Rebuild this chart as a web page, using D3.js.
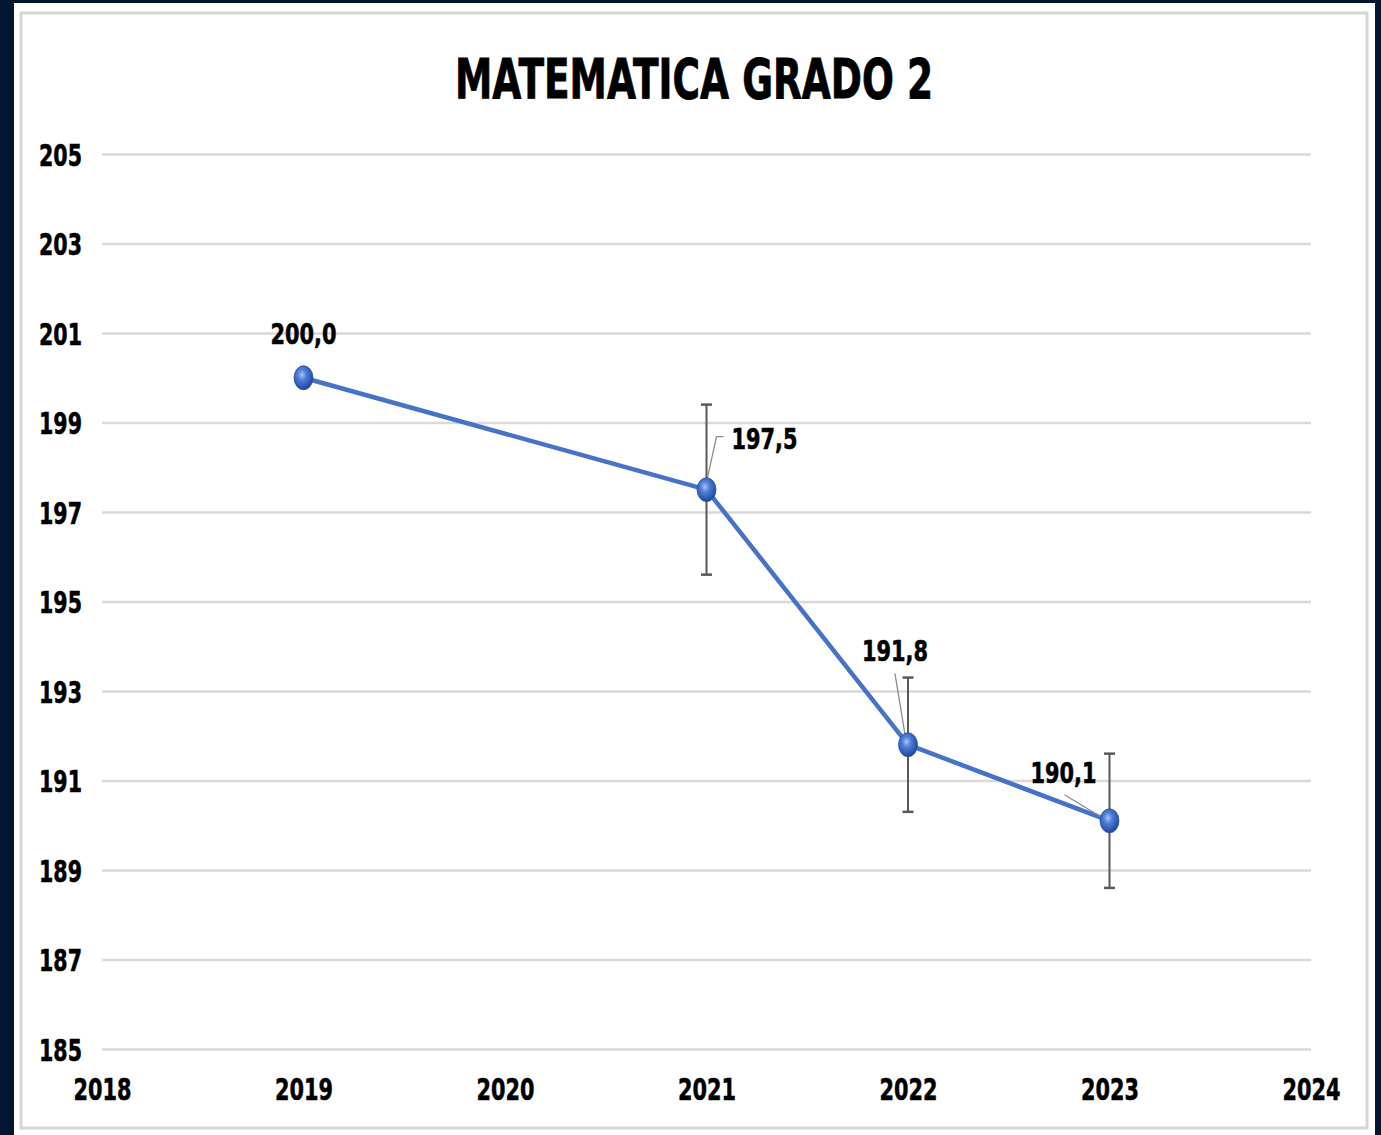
<!DOCTYPE html>
<html><head><meta charset="utf-8">
<script src="https://cdn.jsdelivr.net/npm/d3@7"></script>
<style>
html,body{margin:0;padding:0;background:#021632;}
svg{display:block;}
text{font-family:"DejaVu Sans",Verdana,sans-serif;font-weight:bold;fill:#000;stroke:#000;stroke-width:0.6px;}
</style></head>
<body>
<svg id="c" width="1381" height="1135"></svg>
<script>
// ---- data ----
const years = [2019, 2021, 2022, 2023];
const values = [200.0, 197.5, 191.8, 190.1];
const errLow = [null, 195.6, 190.3, 188.6];
const errHigh = [null, 199.4, 193.3, 191.6];
const labels = ["200,0", "197,5", "191,8", "190,1"];
const yTicks = [185, 187, 189, 191, 193, 195, 197, 199, 201, 203, 205];
const xTicks = [2018, 2019, 2020, 2021, 2022, 2023, 2024];
const title = "MATEMATICA GRADO 2";

// ---- layout (label offsets relative to point, leader line points) ----
const labelLayout = [
  {dx: 0, dy: -34, anchor: "middle", leader: null},
  {dx: 25, dy: -41, anchor: "start", leader: [[17, -53], [10, -53], [1, -12]]},
  {dx: -13, dy: -84, anchor: "middle", leader: [[-13, -71], [-3, -10]]},
  {dx: -13, dy: -38, anchor: "end", leader: [[-45, -26], [-7, -3]]}
];

const svg = d3.select("#c");
const W = 1381, H = 1135;

// background panel
svg.append("rect").attr("x", 0).attr("y", 0).attr("width", W).attr("height", H).attr("fill", "#021632");
svg.append("rect").attr("x", 14).attr("y", 3).attr("width", 1361).attr("height", 1140).attr("fill", "#ffffff");
svg.append("rect").attr("x", 21).attr("y", 13).attr("width", 1346).attr("height", 1115)
  .attr("fill", "#ffffff").attr("stroke", "#d6d6d6").attr("stroke-width", 3);

const x = d3.scaleLinear().domain([2018, 2024]).range([102, 1311]);
const y = d3.scaleLinear().domain([185, 205]).range([1049, 154]);

// gradient for markers
const defs = svg.append("defs");
const g = defs.append("radialGradient").attr("id", "ball").attr("cx", "42%").attr("cy", "38%").attr("r", "65%");
g.append("stop").attr("offset", "0%").attr("stop-color", "#a9c4f2");
g.append("stop").attr("offset", "35%").attr("stop-color", "#4f7fd6");
g.append("stop").attr("offset", "80%").attr("stop-color", "#2a55b0");
g.append("stop").attr("offset", "100%").attr("stop-color", "#1d3f86");

// y axis with gridlines
const yAxis = d3.axisLeft(y).tickValues(yTicks).tickFormat(d3.format("d"))
  .tickSize(-(1311 - 102)).tickPadding(20);
const ya = svg.append("g").attr("transform", "translate(102,0)").call(yAxis);
ya.select(".domain").remove();
ya.selectAll("line").attr("stroke", "#d9d9d9").attr("stroke-width", 2.5);
ya.selectAll("text").attr("font-size", 31).attr("dy", "0.36em")
  .attr("textLength", 43).attr("lengthAdjust", "spacingAndGlyphs")
  .style("font-family", "'DejaVu Sans',sans-serif").style("font-weight", "bold").attr("fill", "#000");

// x axis
const xAxis = d3.axisBottom(x).tickValues(xTicks).tickFormat(d3.format("d")).tickSize(0).tickPadding(29);
const xa = svg.append("g").attr("transform", "translate(0,1049)").call(xAxis);
xa.select(".domain").remove();
xa.selectAll("text").attr("font-size", 31).attr("dy", "0.71em")
  .attr("textLength", 58).attr("lengthAdjust", "spacingAndGlyphs")
  .style("font-family", "'DejaVu Sans',sans-serif").style("font-weight", "bold").attr("fill", "#000");

// title
svg.append("text").attr("x", 694).attr("y", 98).attr("text-anchor", "middle")
  .attr("font-size", 56).attr("textLength", 478).attr("lengthAdjust", "spacingAndGlyphs")
  .style("stroke-width", "0.9px")
  .text(title);

const pts = years.map((yr, i) => ({yr, v: values[i], lo: errLow[i], hi: errHigh[i], lab: labels[i], L: labelLayout[i]}));

// error bars
const eb = svg.append("g");
pts.filter(d => d.lo != null).forEach(d => {
  const cx = x(d.yr);
  eb.append("line").attr("x1", cx).attr("x2", cx).attr("y1", y(d.hi)).attr("y2", y(d.lo))
    .attr("stroke", "#595959").attr("stroke-width", 2);
  [d.hi, d.lo].forEach(v => eb.append("line").attr("x1", cx - 5.5).attr("x2", cx + 5.5)
    .attr("y1", y(v)).attr("y2", y(v)).attr("stroke", "#595959").attr("stroke-width", 2.5));
});

// line
svg.append("path").datum(pts)
  .attr("d", d3.line().x(d => x(d.yr)).y(d => y(d.v)))
  .attr("fill", "none").attr("stroke", "#4672c8").attr("stroke-width", 4.5).attr("stroke-linejoin", "round");

// leader lines
pts.forEach(d => {
  if (!d.L.leader) return;
  const px = x(d.yr), py = y(d.v);
  svg.append("path").attr("d", d3.line()(d.L.leader.map(p => [px + p[0], py + p[1]])))
    .attr("fill", "none").attr("stroke", "#8c8c8c").attr("stroke-width", 1.3);
});

// markers
svg.append("g").selectAll("ellipse").data(pts).join("ellipse")
  .attr("cx", d => x(d.yr)).attr("cy", d => y(d.v)).attr("rx", 9.5).attr("ry", 12)
  .attr("fill", "url(#ball)").attr("stroke", "#2a4f9e").attr("stroke-width", 0.8);

// data labels
svg.append("g").selectAll("text").data(pts).join("text")
  .attr("x", d => x(d.yr) + d.L.dx).attr("y", d => y(d.v) + d.L.dy)
  .attr("text-anchor", d => d.L.anchor)
  .attr("font-size", 29).attr("textLength", 66).attr("lengthAdjust", "spacingAndGlyphs")
  .text(d => d.lab);
</script>
</body></html>
